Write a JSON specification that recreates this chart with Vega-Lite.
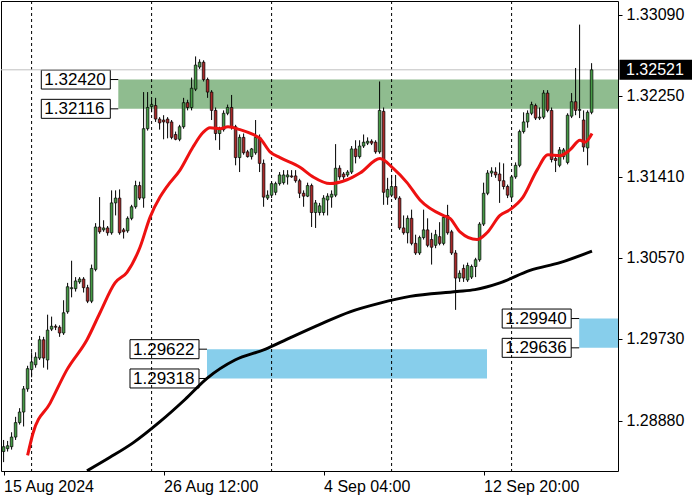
{
  "$schema": "https://vega.github.io/schema/vega-lite/v6.json",
  "width": 617,
  "height": 470,
  "autosize": {"type": "none"},
  "padding": {"left": 1, "top": 1, "right": 82, "bottom": 29},
  "background": "white",
  "config": {
    "view": {"stroke": "black", "strokeWidth": 1},
    "font": "Liberation Sans",
    "text": {"font": "Liberation Sans"}
  },
  "resolve": {"axis": {"x": "independent", "y": "independent"}},
  "datasets": {
    "candles": [
      {"i":0,"o":1.2856,"h":1.2868,"l":1.2845,"c":1.2861},
      {"i":1,"o":1.2859,"h":1.2867,"l":1.2856,"c":1.2862},
      {"i":2,"o":1.2861,"h":1.2876,"l":1.2858,"c":1.2871},
      {"i":3,"o":1.2871,"h":1.2892,"l":1.2868,"c":1.2886},
      {"i":4,"o":1.2886,"h":1.2901,"l":1.2884,"c":1.2897},
      {"i":5,"o":1.2897,"h":1.2924,"l":1.2882,"c":1.2921},
      {"i":6,"o":1.2921,"h":1.2945,"l":1.2918,"c":1.2942},
      {"i":7,"o":1.2941,"h":1.2959,"l":1.2933,"c":1.2949},
      {"i":8,"o":1.2946,"h":1.2959,"l":1.2943,"c":1.2954},
      {"i":9,"o":1.2953,"h":1.2976,"l":1.2951,"c":1.2972},
      {"i":10,"o":1.2972,"h":1.2975,"l":1.2943,"c":1.2953},
      {"i":11,"o":1.2951,"h":1.2998,"l":1.2941,"c":1.2982},
      {"i":12,"o":1.2983,"h":1.2996,"l":1.2981,"c":1.2986},
      {"i":13,"o":1.2986,"h":1.2988,"l":1.2982,"c":1.2985},
      {"i":14,"o":1.2985,"h":1.2987,"l":1.2975,"c":1.2979},
      {"i":15,"o":1.2979,"h":1.3013,"l":1.2977,"c":1.3000},
      {"i":16,"o":1.3001,"h":1.3031,"l":1.2999,"c":1.3027},
      {"i":17,"o":1.3025,"h":1.3054,"l":1.3016,"c":1.3026},
      {"i":18,"o":1.3025,"h":1.3037,"l":1.3022,"c":1.3033},
      {"i":19,"o":1.3032,"h":1.3037,"l":1.3030,"c":1.3035},
      {"i":20,"o":1.3035,"h":1.3037,"l":1.3021,"c":1.3026},
      {"i":21,"o":1.3026,"h":1.3029,"l":1.3010,"c":1.3012},
      {"i":22,"o":1.3012,"h":1.3050,"l":1.3010,"c":1.3046},
      {"i":23,"o":1.3045,"h":1.3093,"l":1.3043,"c":1.3089},
      {"i":24,"o":1.3089,"h":1.3120,"l":1.3082,"c":1.3084},
      {"i":25,"o":1.3086,"h":1.3096,"l":1.3084,"c":1.3088},
      {"i":26,"o":1.3088,"h":1.3090,"l":1.3080,"c":1.3083},
      {"i":27,"o":1.3083,"h":1.3127,"l":1.3081,"c":1.3114},
      {"i":28,"o":1.3114,"h":1.3127,"l":1.3101,"c":1.3119},
      {"i":29,"o":1.3119,"h":1.3128,"l":1.3081,"c":1.3083},
      {"i":30,"o":1.3086,"h":1.3088,"l":1.3077,"c":1.3084},
      {"i":31,"o":1.3085,"h":1.3100,"l":1.3083,"c":1.3098},
      {"i":32,"o":1.3098,"h":1.3112,"l":1.3096,"c":1.3110},
      {"i":33,"o":1.3110,"h":1.3137,"l":1.3108,"c":1.3132},
      {"i":34,"o":1.3132,"h":1.3136,"l":1.3117,"c":1.3119},
      {"i":35,"o":1.3119,"h":1.3229,"l":1.3109,"c":1.3191},
      {"i":36,"o":1.3191,"h":1.3229,"l":1.3189,"c":1.3213},
      {"i":37,"o":1.3214,"h":1.3221,"l":1.3208,"c":1.3216},
      {"i":38,"o":1.3215,"h":1.3223,"l":1.3198,"c":1.3201},
      {"i":39,"o":1.3201,"h":1.3203,"l":1.3190,"c":1.3197},
      {"i":40,"o":1.3200,"h":1.3205,"l":1.3180,"c":1.3198},
      {"i":41,"o":1.3201,"h":1.3203,"l":1.3181,"c":1.3197},
      {"i":42,"o":1.3198,"h":1.3200,"l":1.3180,"c":1.3182},
      {"i":43,"o":1.3185,"h":1.3188,"l":1.3179,"c":1.3180},
      {"i":44,"o":1.3180,"h":1.3195,"l":1.3178,"c":1.3193},
      {"i":45,"o":1.3193,"h":1.3223,"l":1.3191,"c":1.3218},
      {"i":46,"o":1.3218,"h":1.3221,"l":1.3210,"c":1.3213},
      {"i":47,"o":1.3213,"h":1.3244,"l":1.3210,"c":1.3233},
      {"i":48,"o":1.3232,"h":1.3266,"l":1.3230,"c":1.3257},
      {"i":49,"o":1.3255,"h":1.3263,"l":1.3253,"c":1.3260},
      {"i":50,"o":1.3260,"h":1.3262,"l":1.3240,"c":1.3242},
      {"i":51,"o":1.3242,"h":1.3244,"l":1.3223,"c":1.3229},
      {"i":52,"o":1.3229,"h":1.3231,"l":1.3200,"c":1.3210},
      {"i":53,"o":1.3210,"h":1.3213,"l":1.3179,"c":1.3186},
      {"i":54,"o":1.3186,"h":1.3193,"l":1.3169,"c":1.3190},
      {"i":55,"o":1.3190,"h":1.3210,"l":1.3188,"c":1.3207},
      {"i":56,"o":1.3207,"h":1.3216,"l":1.3205,"c":1.3213},
      {"i":57,"o":1.3213,"h":1.3226,"l":1.3190,"c":1.3193},
      {"i":58,"o":1.3193,"h":1.3195,"l":1.3153,"c":1.3161},
      {"i":59,"o":1.3161,"h":1.3185,"l":1.3146,"c":1.3182},
      {"i":60,"o":1.3182,"h":1.3186,"l":1.3164,"c":1.3166},
      {"i":61,"o":1.3167,"h":1.3169,"l":1.3161,"c":1.3162},
      {"i":62,"o":1.3162,"h":1.3171,"l":1.3159,"c":1.3170},
      {"i":63,"o":1.3166,"h":1.3200,"l":1.3164,"c":1.3182},
      {"i":64,"o":1.3182,"h":1.3185,"l":1.3146,"c":1.3155},
      {"i":65,"o":1.3155,"h":1.3159,"l":1.3110,"c":1.3120},
      {"i":66,"o":1.3119,"h":1.3127,"l":1.3117,"c":1.3122},
      {"i":67,"o":1.3122,"h":1.3136,"l":1.3119,"c":1.3134},
      {"i":68,"o":1.3125,"h":1.3136,"l":1.3122,"c":1.3134},
      {"i":69,"o":1.3134,"h":1.3146,"l":1.3132,"c":1.3143},
      {"i":70,"o":1.3135,"h":1.3148,"l":1.3133,"c":1.3143},
      {"i":71,"o":1.3141,"h":1.3148,"l":1.3133,"c":1.3143},
      {"i":72,"o":1.3142,"h":1.3148,"l":1.3140,"c":1.3141},
      {"i":73,"o":1.3142,"h":1.3148,"l":1.3135,"c":1.3137},
      {"i":74,"o":1.3137,"h":1.3139,"l":1.3119,"c":1.3124},
      {"i":75,"o":1.3124,"h":1.3127,"l":1.3110,"c":1.3121},
      {"i":76,"o":1.3121,"h":1.3135,"l":1.3120,"c":1.3132},
      {"i":77,"o":1.3132,"h":1.3134,"l":1.3089,"c":1.3104},
      {"i":78,"o":1.3104,"h":1.3117,"l":1.3088,"c":1.3114},
      {"i":79,"o":1.3104,"h":1.3114,"l":1.3101,"c":1.3111},
      {"i":80,"o":1.3104,"h":1.3122,"l":1.3101,"c":1.3119},
      {"i":81,"o":1.3117,"h":1.3124,"l":1.3101,"c":1.3121},
      {"i":82,"o":1.3120,"h":1.3127,"l":1.3109,"c":1.3123},
      {"i":83,"o":1.3122,"h":1.3175,"l":1.3120,"c":1.3150},
      {"i":84,"o":1.3150,"h":1.3153,"l":1.3138,"c":1.3141},
      {"i":85,"o":1.3144,"h":1.3146,"l":1.3138,"c":1.3141},
      {"i":86,"o":1.3143,"h":1.3148,"l":1.3141,"c":1.3146},
      {"i":87,"o":1.3146,"h":1.3173,"l":1.3144,"c":1.3170},
      {"i":88,"o":1.3170,"h":1.3179,"l":1.3155,"c":1.3162},
      {"i":89,"o":1.3162,"h":1.3179,"l":1.3160,"c":1.3173},
      {"i":90,"o":1.3173,"h":1.3185,"l":1.3171,"c":1.3177},
      {"i":91,"o":1.3176,"h":1.3182,"l":1.3174,"c":1.3178},
      {"i":92,"o":1.3178,"h":1.3180,"l":1.3174,"c":1.3176},
      {"i":93,"o":1.3177,"h":1.3179,"l":1.3165,"c":1.3167},
      {"i":94,"o":1.3167,"h":1.3240,"l":1.3165,"c":1.3210},
      {"i":95,"o":1.3209,"h":1.3213,"l":1.3112,"c":1.3125},
      {"i":96,"o":1.3120,"h":1.3140,"l":1.3112,"c":1.3128},
      {"i":97,"o":1.3122,"h":1.3143,"l":1.3120,"c":1.3131},
      {"i":98,"o":1.3131,"h":1.3143,"l":1.3117,"c":1.3119},
      {"i":99,"o":1.3119,"h":1.3121,"l":1.3086,"c":1.3088},
      {"i":100,"o":1.3088,"h":1.3101,"l":1.3081,"c":1.3083},
      {"i":101,"o":1.3083,"h":1.3101,"l":1.3072,"c":1.3098},
      {"i":102,"o":1.3098,"h":1.3107,"l":1.3070,"c":1.3072},
      {"i":103,"o":1.3072,"h":1.3081,"l":1.3060,"c":1.3062},
      {"i":104,"o":1.3062,"h":1.3080,"l":1.3060,"c":1.3078},
      {"i":105,"o":1.3078,"h":1.3107,"l":1.3076,"c":1.3086},
      {"i":106,"o":1.3086,"h":1.3098,"l":1.3068,"c":1.3070},
      {"i":107,"o":1.3076,"h":1.3083,"l":1.3050,"c":1.3068},
      {"i":108,"o":1.3070,"h":1.3086,"l":1.3067,"c":1.3081},
      {"i":109,"o":1.3079,"h":1.3094,"l":1.3070,"c":1.3072},
      {"i":110,"o":1.3072,"h":1.3101,"l":1.3070,"c":1.3099},
      {"i":111,"o":1.3101,"h":1.3112,"l":1.3081,"c":1.3083},
      {"i":112,"o":1.3084,"h":1.3086,"l":1.3060,"c":1.3062},
      {"i":113,"o":1.3062,"h":1.3065,"l":1.3003,"c":1.3036},
      {"i":114,"o":1.3036,"h":1.3044,"l":1.3032,"c":1.3041},
      {"i":115,"o":1.3046,"h":1.3050,"l":1.3032,"c":1.3036},
      {"i":116,"o":1.3034,"h":1.3052,"l":1.3032,"c":1.3049},
      {"i":117,"o":1.3037,"h":1.3050,"l":1.3035,"c":1.3048},
      {"i":118,"o":1.3048,"h":1.3057,"l":1.3037,"c":1.3055},
      {"i":119,"o":1.3055,"h":1.3094,"l":1.3053,"c":1.3092},
      {"i":120,"o":1.3092,"h":1.3135,"l":1.3090,"c":1.3124},
      {"i":121,"o":1.3124,"h":1.3148,"l":1.3122,"c":1.3145},
      {"i":122,"o":1.3145,"h":1.3151,"l":1.3141,"c":1.3147},
      {"i":123,"o":1.3146,"h":1.3151,"l":1.3140,"c":1.3143},
      {"i":124,"o":1.3144,"h":1.3156,"l":1.3114,"c":1.3137},
      {"i":125,"o":1.3137,"h":1.3155,"l":1.3128,"c":1.3131},
      {"i":126,"o":1.3131,"h":1.3133,"l":1.3119,"c":1.3122},
      {"i":127,"o":1.3120,"h":1.3143,"l":1.3118,"c":1.3141},
      {"i":128,"o":1.3141,"h":1.3156,"l":1.3139,"c":1.3153},
      {"i":129,"o":1.3153,"h":1.3190,"l":1.3151,"c":1.3188},
      {"i":130,"o":1.3188,"h":1.3208,"l":1.3186,"c":1.3198},
      {"i":131,"o":1.3198,"h":1.3210,"l":1.3192,"c":1.3207},
      {"i":132,"o":1.3207,"h":1.3219,"l":1.3205,"c":1.3216},
      {"i":133,"o":1.3215,"h":1.3217,"l":1.3200,"c":1.3202},
      {"i":134,"o":1.3202,"h":1.3213,"l":1.3200,"c":1.3203},
      {"i":135,"o":1.3203,"h":1.3231,"l":1.3201,"c":1.3228},
      {"i":136,"o":1.3228,"h":1.3231,"l":1.3208,"c":1.3210},
      {"i":137,"o":1.3210,"h":1.3213,"l":1.3156,"c":1.3159},
      {"i":138,"o":1.3160,"h":1.3164,"l":1.3146,"c":1.3158},
      {"i":139,"o":1.3153,"h":1.3172,"l":1.3151,"c":1.3169},
      {"i":140,"o":1.3162,"h":1.3171,"l":1.3159,"c":1.3169},
      {"i":141,"o":1.3156,"h":1.3207,"l":1.3154,"c":1.3205},
      {"i":142,"o":1.3204,"h":1.3228,"l":1.3202,"c":1.3219},
      {"i":143,"o":1.3219,"h":1.3254,"l":1.3205,"c":1.3210},
      {"i":144,"o":1.3210,"h":1.3299,"l":1.3202,"c":1.3211},
      {"i":145,"o":1.3200,"h":1.3210,"l":1.3167,"c":1.3172},
      {"i":146,"o":1.3171,"h":1.3210,"l":1.3153,"c":1.3208},
      {"i":147,"o":1.3208,"h":1.3259,"l":1.3206,"c":1.32521}
    ],
    "maFast": [
      {"i":6,"v":1.2852},{"i":7.35,"v":1.2875},{"i":11.6,"v":1.2906},{"i":15.85,"v":1.2941},
      {"i":20.85,"v":1.2972},{"i":24.1,"v":1.3000},{"i":27.85,"v":1.3031},{"i":30.85,"v":1.3042},
      {"i":34.1,"v":1.3068},{"i":36.6,"v":1.3099},{"i":39.1,"v":1.3120},{"i":40.85,"v":1.3131},
      {"i":44.1,"v":1.3148},{"i":47.35,"v":1.3172},{"i":49.85,"v":1.3187},{"i":51.6,"v":1.3192},
      {"i":54.1,"v":1.3191},{"i":56.1,"v":1.3193},{"i":59.1,"v":1.3190},{"i":62.35,"v":1.3185},
      {"i":64.1,"v":1.3181},{"i":66.6,"v":1.3167},{"i":69.1,"v":1.3161},{"i":74.1,"v":1.3151},
      {"i":77.35,"v":1.3141},{"i":81.6,"v":1.3134},{"i":85.85,"v":1.3138},{"i":89.1,"v":1.3145},
      {"i":94.1,"v":1.3160},{"i":97.35,"v":1.3150},{"i":100.85,"v":1.3135},{"i":104.1,"v":1.3117},
      {"i":109.85,"v":1.3101},{"i":111.6,"v":1.3098},{"i":114.1,"v":1.3084},{"i":118.35,"v":1.3076},
      {"i":120.85,"v":1.3083},{"i":124.1,"v":1.3101},{"i":126.6,"v":1.3107},{"i":129.85,"v":1.3120},
      {"i":133.35,"v":1.3148},{"i":136.1,"v":1.3164},{"i":139.1,"v":1.3163},{"i":141.6,"v":1.3169},
      {"i":144.1,"v":1.3179},{"i":145.35,"v":1.3177},{"i":147.1,"v":1.3186}
    ],
    "maSlow": [
      {"i":20.85,"v":1.2836},{"i":26.6,"v":1.2850},{"i":32.35,"v":1.2865},{"i":39.1,"v":1.2887},
      {"i":45.35,"v":1.2910},{"i":50.85,"v":1.2932},{"i":57.85,"v":1.2951},{"i":65.35,"v":1.2962},
      {"i":71.6,"v":1.2974},{"i":79.1,"v":1.2988},{"i":86.6,"v":1.3001},{"i":94.1,"v":1.3010},
      {"i":101.6,"v":1.3017},{"i":113.35,"v":1.3022},{"i":117.85,"v":1.3024},{"i":124.1,"v":1.3031},
      {"i":131.6,"v":1.3044},{"i":139.1,"v":1.3052},{"i":147.1,"v":1.3064}
    ],
    "zones": [
      {"kind":"resistance","start":28.675,"end":153.6,"top":1.32420,"bottom":1.32116},
      {"kind":"support","start":50.85,"end":120.85,"top":1.29622,"bottom":1.29318},
      {"kind":"support","start":143.9,"end":153.6,"top":1.29940,"bottom":1.29636}
    ],
    "seps": [{"i":7},{"i":37},{"i":67},{"i":97},{"i":127}],
    "last": [{"p":1.32521}]
  },
  "layer": [
    {
      "data": {"name": "zones"},
      "mark": {"type": "rect"},
      "encoding": {
        "x": {"field": "start", "type": "quantitative", "scale": {"domain": [-0.65, 153.6], "nice": false, "zero": false, "padding": 0}, "axis": null},
        "x2": {"field": "end"},
        "y": {"field": "top", "type": "quantitative", "scale": {"domain": [1.28358, 1.33235], "nice": false, "zero": false, "padding": 0}, "axis": null},
        "y2": {"field": "bottom"},
        "color": {"field": "kind", "type": "nominal", "scale": {"domain": ["resistance", "support"], "range": ["#8fbc8f", "#87ceeb"]}, "legend": null}
      }
    },
    {
      "data": {"name": "zones"},
      "transform": [{"fold": ["top", "bottom"], "as": ["edge", "level"]}],
      "mark": {"type": "rect", "fill": "white", "stroke": "black", "strokeWidth": 1, "xOffset": -77, "x2Offset": -8, "yOffset": -9.5, "y2Offset": 9.5},
      "encoding": {
        "x": {"field": "start", "type": "quantitative", "scale": {"domain": [-0.65, 153.6], "nice": false, "zero": false, "padding": 0}, "axis": null},
        "x2": {"field": "start"},
        "y": {"field": "level", "type": "quantitative", "scale": {"domain": [1.28358, 1.33235], "nice": false, "zero": false, "padding": 0}, "axis": null},
        "y2": {"field": "level"}
      }
    },
    {
      "data": {"name": "zones"},
      "transform": [{"fold": ["top", "bottom"], "as": ["edge", "level"]}],
      "mark": {"type": "rule", "color": "black", "strokeWidth": 1, "xOffset": -8, "x2Offset": 0},
      "encoding": {
        "x": {"field": "start", "type": "quantitative", "scale": {"domain": [-0.65, 153.6], "nice": false, "zero": false, "padding": 0}, "axis": null},
        "x2": {"field": "start"},
        "y": {"field": "level", "type": "quantitative", "scale": {"domain": [1.28358, 1.33235], "nice": false, "zero": false, "padding": 0}, "axis": null}
      }
    },
    {
      "data": {"name": "zones"},
      "transform": [{"fold": ["top", "bottom"], "as": ["edge", "level"]}],
      "mark": {"type": "text", "align": "left", "baseline": "middle", "fontSize": 17, "color": "black", "xOffset": -74, "yOffset": 0.5},
      "encoding": {
        "x": {"field": "start", "type": "quantitative", "scale": {"domain": [-0.65, 153.6], "nice": false, "zero": false, "padding": 0}, "axis": null},
        "y": {"field": "level", "type": "quantitative", "scale": {"domain": [1.28358, 1.33235], "nice": false, "zero": false, "padding": 0}, "axis": null},
        "text": {"field": "level", "type": "quantitative", "format": ".5f"}
      }
    },
    {
      "data": {"name": "seps"},
      "mark": {"type": "rule", "color": "black", "strokeWidth": 1, "strokeDash": [3, 3]},
      "encoding": {
        "x": {"field": "i", "type": "quantitative", "scale": {"domain": [-0.65, 153.6], "nice": false, "zero": false, "padding": 0}, "axis": null}
      }
    },
    {
      "data": {"name": "last"},
      "mark": {"type": "rule", "color": "#c0c0c0", "strokeWidth": 1},
      "encoding": {
        "y": {"field": "p", "type": "quantitative", "scale": {"domain": [1.28358, 1.33235], "nice": false, "zero": false, "padding": 0}, "axis": null}
      }
    },
    {
      "data": {"name": "candles"},
      "mark": {"type": "rule", "color": "black", "strokeWidth": 1},
      "encoding": {
        "x": {"field": "i", "type": "quantitative", "scale": {"domain": [-0.65, 153.6], "nice": false, "zero": false, "padding": 0},
          "axis": {"orient": "bottom", "values": [0, 40, 80, 120], "labelExpr": "datum.value == 0 ? '15 Aug 2024' : datum.value == 40 ? '26 Aug 12:00' : datum.value == 80 ? '4 Sep 04:00' : '12 Sep 20:00'", "labelAlign": "left", "labelBaseline": "top", "labelFontSize": 16, "labelColor": "black", "labelFont": "Liberation Sans", "tickColor": "black", "tickSize": 4, "labelPadding": 3, "domain": false, "grid": false, "title": null, "labelFlush": false, "labelOverlap": false}},
        "y": {"field": "l", "type": "quantitative", "scale": {"domain": [1.28358, 1.33235], "nice": false, "zero": false, "padding": 0},
          "axis": {"orient": "right", "values": [1.3309, 1.3225, 1.3141, 1.3057, 1.2973, 1.2888], "format": ".5f", "labelFontSize": 16, "labelColor": "black", "labelFont": "Liberation Sans", "tickColor": "black", "tickSize": 4, "labelPadding": 4, "domain": false, "grid": false, "title": null, "labelFlush": false, "labelOverlap": false}},
        "y2": {"field": "h"}
      }
    },
    {
      "data": {"name": "candles"},
      "mark": {"type": "bar", "size": 2.6, "stroke": "black", "strokeWidth": 0.7},
      "encoding": {
        "x": {"field": "i", "type": "quantitative", "scale": {"domain": [-0.65, 153.6], "nice": false, "zero": false, "padding": 0}, "axis": null},
        "y": {"field": "o", "type": "quantitative", "scale": {"domain": [1.28358, 1.33235], "nice": false, "zero": false, "padding": 0}, "axis": null},
        "y2": {"field": "c"},
        "fill": {"condition": {"test": "datum.c >= datum.o", "value": "#459a45"}, "value": "#a82828"}
      }
    },
    {
      "data": {"name": "maFast"},
      "mark": {"type": "line", "color": "#ee1111", "strokeWidth": 3, "interpolate": "monotone", "clip": true},
      "encoding": {
        "x": {"field": "i", "type": "quantitative", "scale": {"domain": [-0.65, 153.6], "nice": false, "zero": false, "padding": 0}, "axis": null},
        "y": {"field": "v", "type": "quantitative", "scale": {"domain": [1.28358, 1.33235], "nice": false, "zero": false, "padding": 0}, "axis": null}
      }
    },
    {
      "data": {"name": "maSlow"},
      "mark": {"type": "line", "color": "black", "strokeWidth": 3, "interpolate": "monotone", "clip": true},
      "encoding": {
        "x": {"field": "i", "type": "quantitative", "scale": {"domain": [-0.65, 153.6], "nice": false, "zero": false, "padding": 0}, "axis": null},
        "y": {"field": "v", "type": "quantitative", "scale": {"domain": [1.28358, 1.33235], "nice": false, "zero": false, "padding": 0}, "axis": null}
      }
    },
    {
      "data": {"name": "last"},
      "mark": {"type": "rect", "fill": "black", "xOffset": 1.5, "x2Offset": 74, "yOffset": -10, "y2Offset": 10},
      "encoding": {
        "x": {"datum": 153.6, "type": "quantitative", "scale": {"domain": [-0.65, 153.6], "nice": false, "zero": false, "padding": 0}, "axis": null},
        "x2": {"datum": 153.6},
        "y": {"field": "p", "type": "quantitative", "scale": {"domain": [1.28358, 1.33235], "nice": false, "zero": false, "padding": 0}, "axis": null},
        "y2": {"field": "p"}
      }
    },
    {
      "data": {"name": "last"},
      "mark": {"type": "text", "color": "white", "align": "left", "baseline": "middle", "fontSize": 16, "xOffset": 8, "yOffset": 0.5},
      "encoding": {
        "x": {"datum": 153.6, "type": "quantitative", "scale": {"domain": [-0.65, 153.6], "nice": false, "zero": false, "padding": 0}, "axis": null},
        "y": {"field": "p", "type": "quantitative", "scale": {"domain": [1.28358, 1.33235], "nice": false, "zero": false, "padding": 0}, "axis": null},
        "text": {"field": "p", "type": "quantitative", "format": ".5f"}
      }
    }
  ]
}
